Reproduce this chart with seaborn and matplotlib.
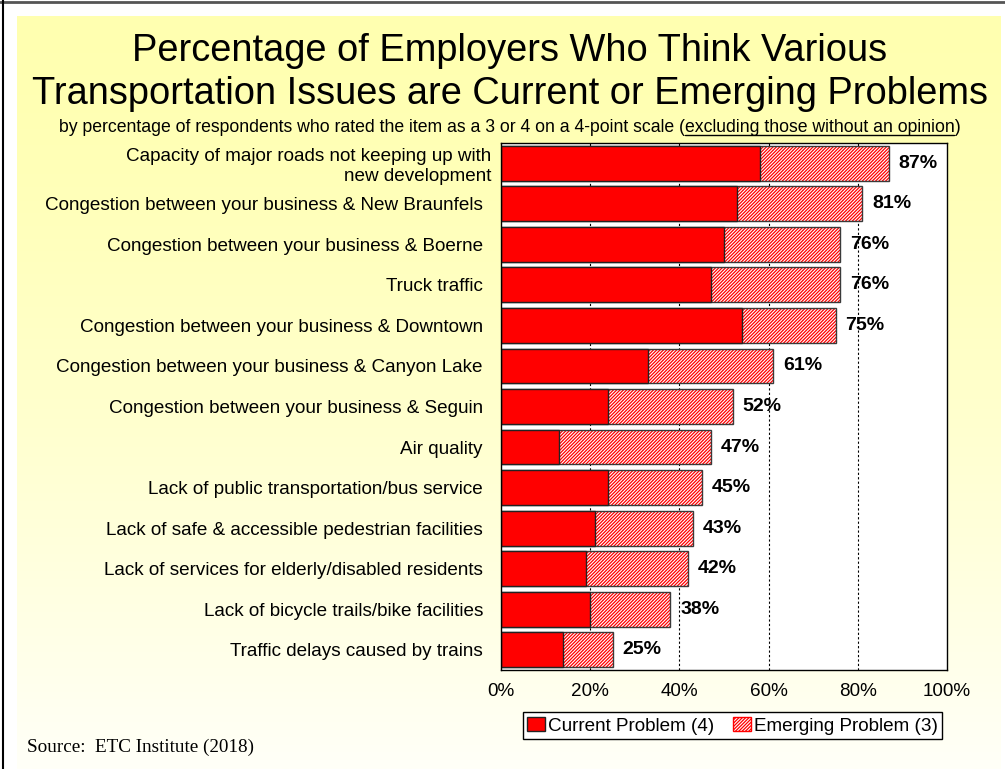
import numpy as np
import pandas as pd
import matplotlib
matplotlib.use("Agg")
import matplotlib.pyplot as plt
import matplotlib.transforms as mtransforms
import seaborn as sns
from matplotlib.patches import Patch
from matplotlib.lines import Line2D

# ---------------- data ----------------
categories = [
    "Capacity of major roads not keeping up with\nnew development",
    "Congestion between your business & New Braunfels",
    "Congestion between your business & Boerne",
    "Truck traffic",
    "Congestion between your business & Downtown",
    "Congestion between your business & Canyon Lake",
    "Congestion between your business & Seguin",
    "Air quality",
    "Lack of public transportation/bus service",
    "Lack of safe & accessible pedestrian facilities",
    "Lack of services for elderly/disabled residents",
    "Lack of bicycle trails/bike facilities",
    "Traffic delays caused by trains",
]
current = [58, 53, 50, 47, 54, 33, 24, 13, 24, 21, 19, 20, 14]
total = [87, 81, 76, 76, 75, 61, 52, 47, 45, 43, 42, 38, 25]
xticks = [0, 20, 40, 60, 80, 100]
xticklabels = ["0%", "20%", "40%", "60%", "80%", "100%"]
legend_labels = ["Current Problem (4)", "Emerging Problem (3)"]
title_lines = ["Percentage of Employers Who Think Various",
               "Transportation Issues are Current or Emerging Problems"]
subtitle_plain = "by percentage of respondents who rated the item as a 3 or 4 on a 4-point scale "
subtitle_under = "(excluding those without an opinion)"
source_text = "Source:  ETC Institute (2018)"

# ---------------- style ----------------
sns.set_theme(style="white")
plt.rcParams["font.family"] = ["Liberation Sans", "DejaVu Sans"]
plt.rcParams["text.color"] = "black"
plt.rcParams["xtick.color"] = "black"
plt.rcParams["ytick.color"] = "black"
plt.rcParams["axes.labelcolor"] = "black"
plt.rcParams["hatch.linewidth"] = 0.9

FS = 13.6
W, H = 1005, 769
fig = plt.figure(figsize=(W / 100, H / 100), dpi=100)
fig.patch.set_facecolor("white")

# gradient panel background
bg = fig.add_axes([17 / W, 0, (1000 - 17) / W, (H - 16) / H], zorder=-10)
g = np.linspace(0, 1, 256)
topc = np.array([255, 255, 176]) / 255
botc = np.array([255, 255, 248]) / 255
img = topc[None, :] + (botc - topc)[None, :] * (g[:, None] ** 1.4)
bg.imshow(img[:, None, :], aspect="auto", extent=[0, 1, 0, 1])
bg.set_axis_off()

# outer frame lines
fig.add_artist(Line2D([0, 1], [1 - 1.5 / H, 1 - 1.5 / H], color="#555555", lw=2.0))
fig.add_artist(Line2D([2.5 / W, 2.5 / W], [0, 1], color="black", lw=1.5))

# main axes
ax = fig.add_axes([501 / W, 1 - 670 / H, 446 / W, 527 / H])
ax.set_facecolor("white")

df = pd.DataFrame({"Issue": categories, "Total": total, "Current": current})

# emerging (hatched) = total bar
sns.barplot(data=df, x="Total", y="Issue", color="white", saturation=1,
            edgecolor="#FF0000", linewidth=0, width=0.86, ax=ax)
for p in ax.patches:
    p.set_hatch("//////////")
# outline of total bar
sns.barplot(data=df, x="Total", y="Issue", color="#3a3a3a", fill=False,
            linewidth=1, width=0.86, ax=ax)
# current problem bar
sns.barplot(data=df, x="Current", y="Issue", color="#FF0000", saturation=1,
            edgecolor="#222222", linewidth=1, width=0.86, ax=ax)

for v in [20, 40, 60, 80]:
    ax.axvline(v, color="black", lw=0.8, ls=(0, (2, 2)), zorder=0.5)

ax.set_xlim(0, 100)
ax.set_ylim(12.5, -0.5)
ax.set_xticks(xticks)
ax.set_xticklabels(xticklabels, fontsize=FS)
ax.set_yticks(range(len(categories)))
ax.set_yticklabels(categories, fontsize=FS)
ax.tick_params(axis="x", length=0, pad=9, colors="black")
ax.tick_params(axis="y", length=0, pad=13, colors="black")
ax.set_xlabel("")
ax.set_ylabel("")
for s in ax.spines.values():
    s.set_color("black")
    s.set_linewidth(1)
    s.set_visible(True)

# first label sits a little closer to the axis in the original
lab0 = ax.get_yticklabels()[0]
lab0.set_transform(lab0.get_transform() +
                   mtransforms.ScaledTranslation(8 / 100, 0, fig.dpi_scale_trans))

for i, t in enumerate(total):
    ax.annotate(f"{t}%", xy=(t, i), xytext=(7, 0), textcoords="offset points",
                va="center", ha="left", fontsize=14, fontweight="bold",
                color="black")

handles = [Patch(facecolor="#FF0000", edgecolor="#222222"),
           Patch(facecolor="white", edgecolor="#FF0000", hatch="//////////")]
leg = ax.legend(handles, legend_labels, loc="center", bbox_to_anchor=(0.519, -0.106),
                ncol=2, frameon=True, fancybox=False, edgecolor="black",
                fontsize=FS, handlelength=0.95, handleheight=0.75,
                handletextpad=0.15, columnspacing=1.0, borderpad=0.25,
                framealpha=1, borderaxespad=0)
leg.get_frame().set_linewidth(1)

# titles
cx = 0.507
fig.text(cx, 1 - 61 / H, title_lines[0], ha="center", va="baseline", fontsize=27.4)
fig.text(cx, 1 - 104 / H, title_lines[1], ha="center", va="baseline", fontsize=27.4)

SFS = 12.7
sub = fig.text(cx, 1 - 132 / H, subtitle_plain + subtitle_under, ha="center",
               va="baseline", fontsize=SFS)
fig.canvas.draw()
r = fig.canvas.get_renderer()
bb = sub.get_window_extent(r)


def _w(s):
    t = fig.text(0, 0, s, fontsize=SFS)
    w = t.get_window_extent(r).width
    t.remove()
    return w


w_under = _w(subtitle_under)
w_par = _w("(")
x0 = bb.x1 - w_under + w_par
x1 = bb.x1 - w_par
yline = 1 - 134.5 / H
fig.add_artist(Line2D([x0 / W, x1 / W], [yline, yline], color="black", lw=1))

fig.text(27 / W, 1 - 752 / H, source_text, ha="left", va="baseline",
         fontsize=13.8, family=["Liberation Serif", "DejaVu Serif"])

fig.savefig("out.png", dpi=100)
